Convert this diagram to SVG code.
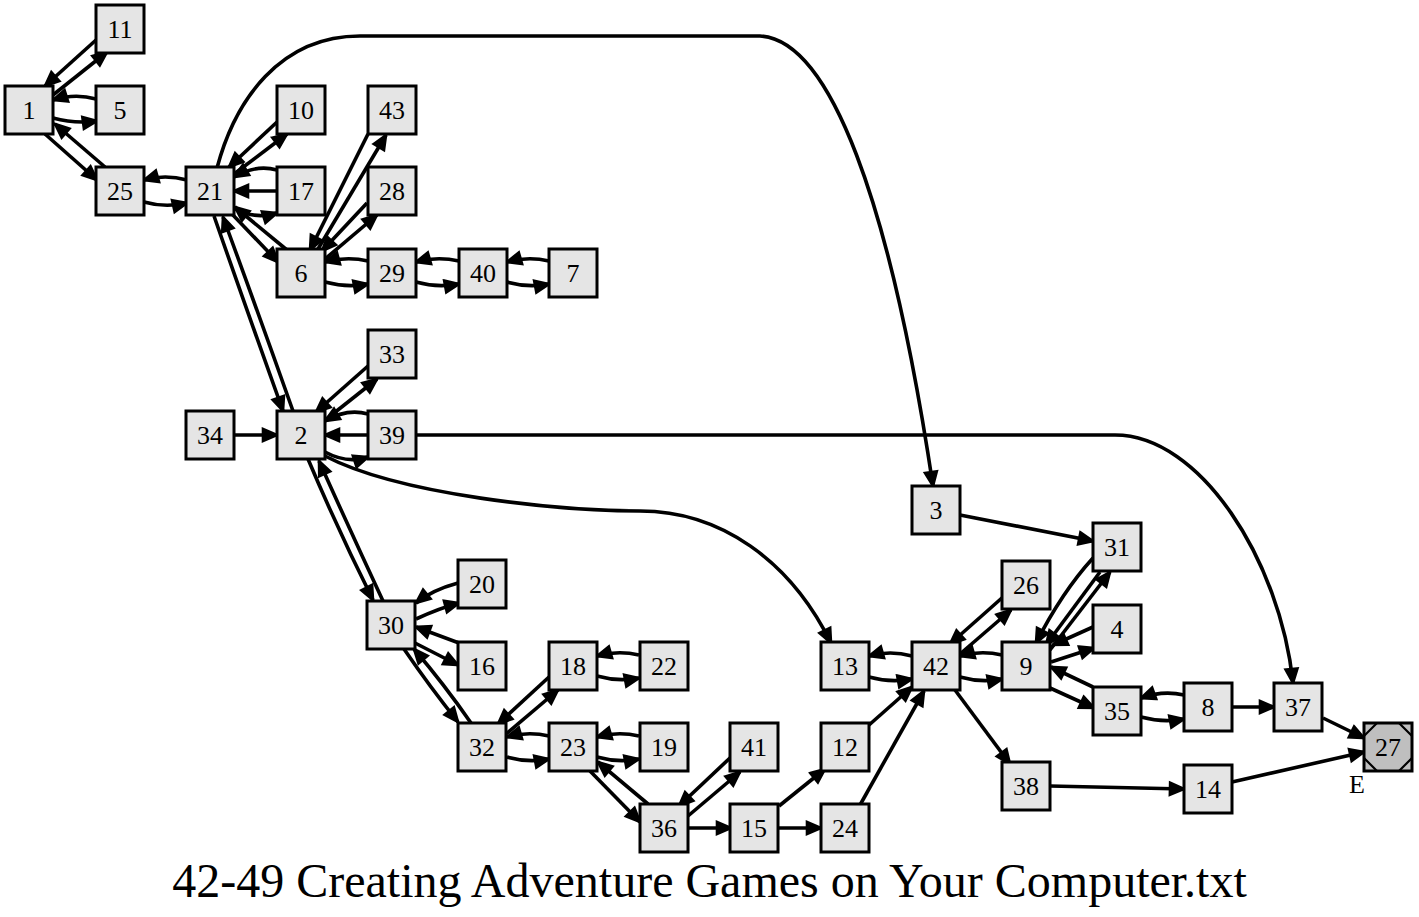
<svg xmlns="http://www.w3.org/2000/svg" width="1419" height="917" viewBox="0 0 1419 917">
<defs>
<style>
.n rect{fill:#e5e5e5;stroke:#000;stroke-width:3}
.n text,.lbl{font-family:"Liberation Serif","Times New Roman",serif;font-size:26px;text-anchor:middle;fill:#000}
.e path{fill:none;stroke:#000;stroke-width:3.6;marker-end:url(#ah)}
.title{font-family:"Liberation Serif","Times New Roman",serif;font-size:48px;text-anchor:middle;fill:#000}
</style>
<marker id="ah" markerUnits="userSpaceOnUse" markerWidth="24" markerHeight="24" refX="14" refY="6" orient="auto" overflow="visible">
<path d="M0,0 L14,6 L0,12 Z" fill="#000" stroke="#000" stroke-width="2.6"/>
</marker>
</defs>
<rect width="1419" height="917" fill="#fff"/>
<g id="edges" class="e">
<path d="M96,40 L45,86"/>
<path d="M53,95 L107,52"/>
<path d="M96,99 Q75,93 53,100"/>
<path d="M53,118 Q75,124 97,121"/>
<path d="M45,134 L97,180"/>
<path d="M105,167 L55,124"/>
<path d="M187,180 Q165,174 144,180"/>
<path d="M144,202 Q165,208 187,203"/>
<path d="M277,122 L229,167"/>
<path d="M234,174 L287,134"/>
<path d="M277,170 Q256,164 234,177"/>
<path d="M277,191 L234,191"/>
<path d="M233,208 Q255,220 277,213"/>
<path d="M287,250 L235,207"/>
<path d="M232,214 L278,262"/>
<path d="M214,216 Q245,305 283,411"/>
<path d="M293,411 Q259,315 223,217"/>
<path d="M368,134 L310,250"/>
<path d="M318,249 L386,135"/>
<path d="M367,203 L322,251"/>
<path d="M325,259 L377,215"/>
<path d="M368,261 Q347,256 325,262"/>
<path d="M325,282 Q347,288 368,284"/>
<path d="M459,261 Q437,256 416,262"/>
<path d="M416,282 Q437,288 459,284"/>
<path d="M549,261 Q528,256 507,262"/>
<path d="M507,282 Q528,288 549,284"/>
<path d="M368,366 L316,412"/>
<path d="M324,421 L377,379"/>
<path d="M368,414 Q347,408 325,421"/>
<path d="M368,435 L325,435"/>
<path d="M325,452 Q347,464 368,457"/>
<path d="M234,435 L277,435"/>
<path d="M308,459 Q338,530 373,600"/>
<path d="M383,601 Q350,530 319,461"/>
<path d="M325,456 C400,495 560,511 640,511 C720,511 790,560 831,643"/>
<path d="M416,435 L1115,435 C1200,435 1280,560 1293,683"/>
<path d="M217,168 C235,100 280,36 360,36 L760,36 C830,40 890,200 933,486"/>
<path d="M960,515 L1093,541"/>
<path d="M458,583 Q432,590 416,603"/>
<path d="M416,619 Q440,608 459,603"/>
<path d="M459,643 L416,627"/>
<path d="M415,643 L458,665"/>
<path d="M404,649 Q430,687 458,722"/>
<path d="M471,723 Q444,684 414,649"/>
<path d="M549,677 L498,724"/>
<path d="M506,734 L558,690"/>
<path d="M639,655 Q618,650 597,656"/>
<path d="M597,676 Q618,682 639,678"/>
<path d="M549,736 Q528,731 507,737"/>
<path d="M507,757 Q528,763 549,759"/>
<path d="M639,736 Q618,731 597,737"/>
<path d="M597,757 Q618,763 639,759"/>
<path d="M648,804 L598,762"/>
<path d="M590,771 L640,822"/>
<path d="M731,757 L679,806"/>
<path d="M688,816 L740,772"/>
<path d="M688,828 L731,828"/>
<path d="M779,806 L825,769"/>
<path d="M779,828 L821,828"/>
<path d="M869,725 L912,687"/>
<path d="M860,805 L924,691"/>
<path d="M912,656 Q890,650 869,656"/>
<path d="M869,677 Q890,683 912,679"/>
<path d="M1003,597 L950,644"/>
<path d="M960,654 L1011,610"/>
<path d="M1002,655 Q981,650 960,656"/>
<path d="M960,677 Q981,683 1002,679"/>
<path d="M955,690 L1010,764"/>
<path d="M1050,786 L1184,789"/>
<path d="M1232,782 L1364,752"/>
<path d="M1323,718 L1364,738"/>
<path d="M1232,707 L1274,707"/>
<path d="M1184,695 Q1163,690 1141,698"/>
<path d="M1141,717 Q1163,723 1184,719"/>
<path d="M1050,688 L1094,708"/>
<path d="M1093,687 L1051,667"/>
<path d="M1093,627 L1053,645"/>
<path d="M1051,662 L1094,648"/>
<path d="M1093,558 Q1062,592 1036,643"/>
<path d="M1100,572 L1046,645"/>
<path d="M1050,650 L1110,572"/>
</g>
<g id="node1" class="n"><rect x="5" y="86" width="48" height="48"/><text x="29" y="119">1</text></g>
<g id="node11" class="n"><rect x="96" y="5" width="48" height="48"/><text x="120" y="38">11</text></g>
<g id="node5" class="n"><rect x="96" y="86" width="48" height="48"/><text x="120" y="119">5</text></g>
<g id="node25" class="n"><rect x="96" y="167" width="48" height="48"/><text x="120" y="200">25</text></g>
<g id="node21" class="n"><rect x="186" y="167" width="48" height="48"/><text x="210" y="200">21</text></g>
<g id="node10" class="n"><rect x="277" y="86" width="48" height="48"/><text x="301" y="119">10</text></g>
<g id="node17" class="n"><rect x="277" y="167" width="48" height="48"/><text x="301" y="200">17</text></g>
<g id="node6" class="n"><rect x="277" y="249" width="48" height="48"/><text x="301" y="282">6</text></g>
<g id="node43" class="n"><rect x="368" y="86" width="48" height="48"/><text x="392" y="119">43</text></g>
<g id="node28" class="n"><rect x="368" y="167" width="48" height="48"/><text x="392" y="200">28</text></g>
<g id="node29" class="n"><rect x="368" y="249" width="48" height="48"/><text x="392" y="282">29</text></g>
<g id="node40" class="n"><rect x="459" y="249" width="48" height="48"/><text x="483" y="282">40</text></g>
<g id="node7" class="n"><rect x="549" y="249" width="48" height="48"/><text x="573" y="282">7</text></g>
<g id="node33" class="n"><rect x="368" y="330" width="48" height="48"/><text x="392" y="363">33</text></g>
<g id="node34" class="n"><rect x="186" y="411" width="48" height="48"/><text x="210" y="444">34</text></g>
<g id="node2" class="n"><rect x="277" y="411" width="48" height="48"/><text x="301" y="444">2</text></g>
<g id="node39" class="n"><rect x="368" y="411" width="48" height="48"/><text x="392" y="444">39</text></g>
<g id="node3" class="n"><rect x="912" y="486" width="48" height="48"/><text x="936" y="519">3</text></g>
<g id="node31" class="n"><rect x="1093" y="523" width="48" height="48"/><text x="1117" y="556">31</text></g>
<g id="node26" class="n"><rect x="1002" y="561" width="48" height="48"/><text x="1026" y="594">26</text></g>
<g id="node4" class="n"><rect x="1093" y="605" width="48" height="48"/><text x="1117" y="638">4</text></g>
<g id="node30" class="n"><rect x="367" y="601" width="48" height="48"/><text x="391" y="634">30</text></g>
<g id="node20" class="n"><rect x="458" y="560" width="48" height="48"/><text x="482" y="593">20</text></g>
<g id="node16" class="n"><rect x="458" y="642" width="48" height="48"/><text x="482" y="675">16</text></g>
<g id="node18" class="n"><rect x="549" y="642" width="48" height="48"/><text x="573" y="675">18</text></g>
<g id="node22" class="n"><rect x="640" y="642" width="48" height="48"/><text x="664" y="675">22</text></g>
<g id="node13" class="n"><rect x="821" y="642" width="48" height="48"/><text x="845" y="675">13</text></g>
<g id="node42" class="n"><rect x="912" y="642" width="48" height="48"/><text x="936" y="675">42</text></g>
<g id="node9" class="n"><rect x="1002" y="642" width="48" height="48"/><text x="1026" y="675">9</text></g>
<g id="node35" class="n"><rect x="1093" y="687" width="48" height="48"/><text x="1117" y="720">35</text></g>
<g id="node8" class="n"><rect x="1184" y="683" width="48" height="48"/><text x="1208" y="716">8</text></g>
<g id="node37" class="n"><rect x="1274" y="683" width="48" height="48"/><text x="1298" y="716">37</text></g>
<g id="node32" class="n"><rect x="458" y="723" width="48" height="48"/><text x="482" y="756">32</text></g>
<g id="node23" class="n"><rect x="549" y="723" width="48" height="48"/><text x="573" y="756">23</text></g>
<g id="node19" class="n"><rect x="640" y="723" width="48" height="48"/><text x="664" y="756">19</text></g>
<g id="node41" class="n"><rect x="730" y="723" width="48" height="48"/><text x="754" y="756">41</text></g>
<g id="node12" class="n"><rect x="821" y="723" width="48" height="48"/><text x="845" y="756">12</text></g>
<g id="node38" class="n"><rect x="1002" y="762" width="48" height="48"/><text x="1026" y="795">38</text></g>
<g id="node14" class="n"><rect x="1184" y="765" width="48" height="48"/><text x="1208" y="798">14</text></g>
<g id="node36" class="n"><rect x="640" y="804" width="48" height="48"/><text x="664" y="837">36</text></g>
<g id="node15" class="n"><rect x="730" y="804" width="48" height="48"/><text x="754" y="837">15</text></g>
<g id="node24" class="n"><rect x="821" y="804" width="48" height="48"/><text x="845" y="837">24</text></g>
<g id="node27" class="n"><rect x="1364" y="723" width="48" height="48" style="fill:#bfbfbf"/><path d="M1364,736 L1377,723 M1399,723 L1412,736 M1412,758 L1399,771 M1377,771 L1364,758" fill="none" stroke="#000" stroke-width="2.2"/><text x="1388" y="756">27</text><text class="lbl" x="1357" y="793">E</text></g>
<text class="title" x="709.5" y="897">42-49 Creating Adventure Games on Your Computer.txt</text>
</svg>
